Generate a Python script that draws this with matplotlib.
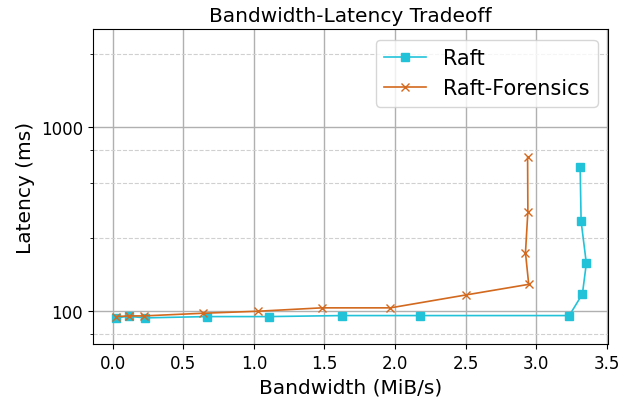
import matplotlib.pyplot as plt
from matplotlib.ticker import FixedLocator, NullFormatter, ScalarFormatter

# Bandwidth (MiB/s) vs latency (ms)
raft_bw = [0.024, 0.113, 0.228, 0.666, 1.105, 1.627, 2.173, 3.233, 3.326, 3.354, 3.317, 3.310]
raft_lat = [92.0, 93.9, 92.0, 93.5, 93.5, 94.7, 94.7, 94.7, 124, 182, 308, 608]

forensics_bw = [0.024, 0.113, 0.220, 0.642, 1.030, 1.481, 1.967, 2.504, 2.946, 2.923, 2.940, 2.938]
forensics_lat = [93.5, 94.3, 94.3, 97.5, 100, 104.3, 104.3, 122.7, 140, 208, 347, 687]

major_ticks = [100, 1000]
minor_ticks = [75, 250, 500, 750, 2500]

fig = plt.figure(figsize=(6.21, 4.02), dpi=100)
ax = fig.add_axes([0.149, 0.142, 0.830, 0.783])

ax.plot(raft_bw, raft_lat, color='#22c3d9', marker='s', markersize=6, linewidth=1.2, label='Raft')
ax.plot(forensics_bw, forensics_lat, color='#d2691e', marker='x', markersize=5.5, linewidth=1.2, label='Raft-Forensics')

ax.set_yscale('log')
ax.set_ylim(66.4, 3420)
ax.set_xticks([0.0, 0.5, 1.0, 1.5, 2.0, 2.5, 3.0, 3.5])
ax.set_xlim(-0.142, 3.507)
ax.yaxis.set_major_locator(FixedLocator(major_ticks))
ax.yaxis.set_major_formatter(ScalarFormatter())
ax.yaxis.set_minor_locator(FixedLocator(minor_ticks))
ax.yaxis.set_minor_formatter(NullFormatter())

ax.grid(True, which='major', color='#b0b0b0', linewidth=1.0)
ax.grid(True, which='minor', color='#d0d0d0', linestyle='--', linewidth=0.8)

ax.set_title("Bandwidth-Latency Tradeoff", fontsize=14.5)
ax.set_xlabel("Bandwidth (MiB/s)", fontsize=14.5)
ax.set_ylabel("Latency (ms)", fontsize=14.5)
ax.tick_params(axis='both', which='major', labelsize=12)
ax.legend(loc='upper right', fontsize=15)

fig.savefig('out.png')
